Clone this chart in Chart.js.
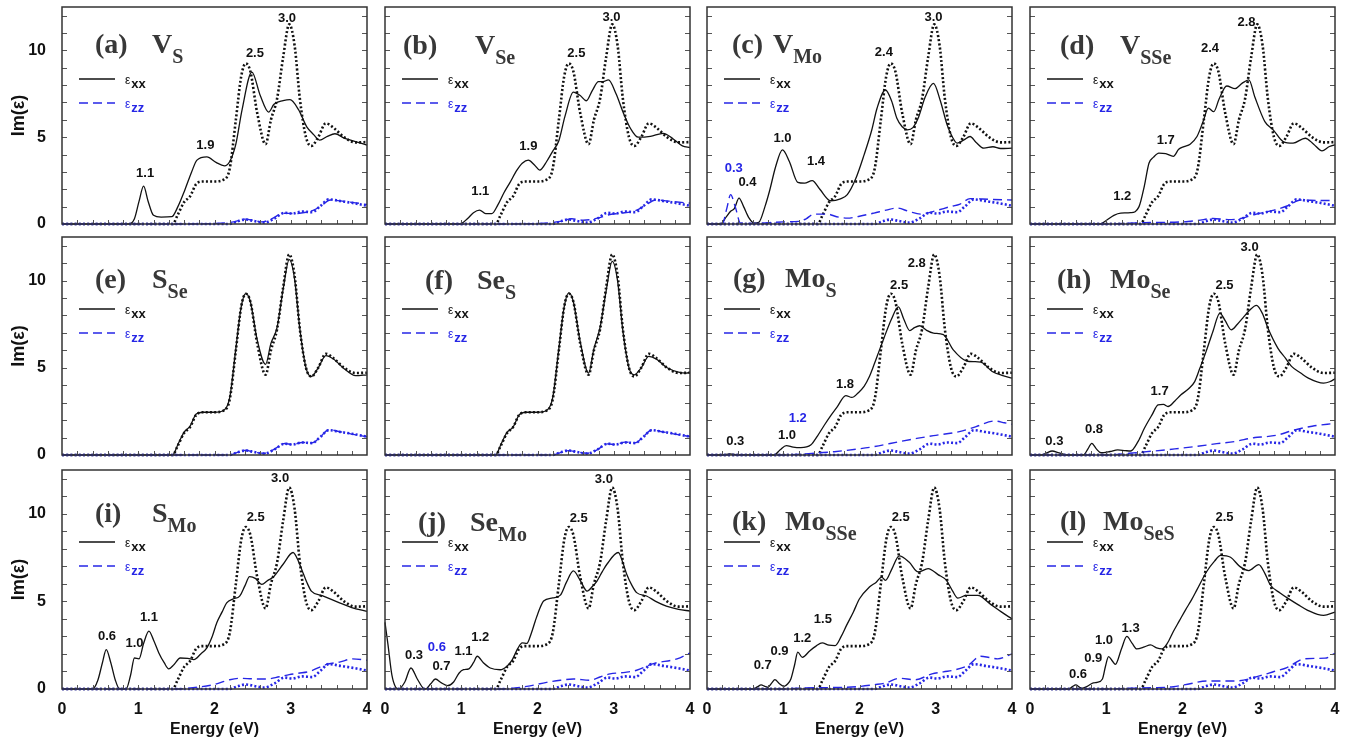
<!DOCTYPE html>
<html>
<head>
<meta charset="utf-8">
<title>Im(ε) spectra of defective MoSSe</title>
<script src="https://cdn.jsdelivr.net/npm/chart.js@4.4.1/dist/chart.umd.min.js"></script>
<style>
  body { margin: 0; background: #fff; width: 1359px; height: 745px; position: relative; overflow: hidden; }
  canvas { position: absolute; }
</style>
</head>
<body>
<script>
// Pristine MoSSe reference curves (dotted), the same in every panel
const pristineXX = [[0,0],[1.45,0],[1.52,0.55],[1.6,1.25],[1.68,1.6],[1.76,2.3],[1.85,2.45],[2.0,2.45],[2.12,2.55],[2.2,3.2],[2.28,6.0],[2.35,8.5],[2.41,9.25],[2.47,8.8],[2.56,6.4],[2.67,4.6],[2.74,6.0],[2.82,7.2],[2.9,9.6],[2.98,11.5],[3.05,10.3],[3.12,7.2],[3.2,5.0],[3.27,4.5],[3.36,5.0],[3.46,5.8],[3.56,5.55],[3.7,5.0],[3.85,4.7],[4.0,4.72]];
const pristineZZ = [[0,0],[2.2,0],[2.3,0.15],[2.41,0.26],[2.52,0.17],[2.65,0.08],[2.78,0.3],[2.92,0.65],[3.02,0.6],[3.15,0.72],[3.28,0.68],[3.38,1.0],[3.5,1.42],[3.65,1.32],[3.8,1.22],[4.0,1.05]];

// (a) V_S
const vsXX = [[0,0],[0.88,0],[0.95,0.3],[1.01,1.3],[1.07,2.18],[1.13,1.3],[1.2,0.5],[1.3,0.4],[1.44,0.42],[1.52,1.0],[1.61,1.95],[1.7,3.0],[1.77,3.68],[1.9,3.87],[2.02,3.55],[2.13,3.35],[2.2,3.6],[2.28,4.6],[2.36,6.55],[2.49,8.75],[2.6,7.4],[2.71,6.45],[2.78,6.9],[2.9,7.1],[2.99,7.16],[3.1,6.6],[3.21,5.6],[3.3,5.15],[3.38,4.83],[3.48,5.05],[3.58,5.2],[3.7,4.95],[3.85,4.75],[4.0,4.54]];
const vsZZ = [[0,0],[1.5,0],[2.0,0.03],[2.25,0.12],[2.4,0.28],[2.52,0.2],[2.62,0.12],[2.75,0.3],[2.9,0.62],[3.05,0.6],[3.2,0.68],[3.3,0.8],[3.4,1.05],[3.52,1.38],[3.7,1.3],[3.85,1.22],[4.0,1.12]];
// (b) V_Se
const vseXX = [[0,0],[0.98,0],[1.08,0.3],[1.16,0.65],[1.24,0.8],[1.32,0.6],[1.4,0.6],[1.48,1.1],[1.56,1.8],[1.64,2.4],[1.73,3.1],[1.8,3.5],[1.88,3.68],[1.96,3.4],[2.03,3.1],[2.12,3.6],[2.2,4.2],[2.28,4.8],[2.36,6.2],[2.47,7.6],[2.56,7.4],[2.64,7.1],[2.72,7.7],[2.8,8.2],[2.86,8.2],[2.93,8.3],[3.03,7.5],[3.13,6.35],[3.22,5.5],[3.32,5.0],[3.48,5.05],[3.65,5.22],[3.78,4.9],[3.9,4.5],[4.0,4.4]];
const vseZZ = [[0,0],[1.5,0],[2.1,0.05],[2.3,0.15],[2.45,0.3],[2.6,0.22],[2.8,0.35],[2.95,0.55],[3.1,0.62],[3.3,0.8],[3.42,1.1],[3.55,1.38],[3.75,1.3],[4.0,1.2]];
// (c) V_Mo
const vmoXX = [[0,0],[0.18,0],[0.25,0.4],[0.31,0.73],[0.36,0.9],[0.42,1.49],[0.48,1.0],[0.55,0.35],[0.62,0.05],[0.68,0.1],[0.76,1.0],[0.82,1.9],[0.9,3.3],[0.99,4.27],[1.08,3.6],[1.19,2.4],[1.28,2.35],[1.38,2.5],[1.48,2.0],[1.62,1.34],[1.75,1.45],[1.84,1.69],[1.95,2.6],[2.06,3.98],[2.16,5.4],[2.23,6.67],[2.34,7.72],[2.42,7.1],[2.49,6.09],[2.56,5.6],[2.63,5.42],[2.7,5.55],[2.77,6.1],[2.86,7.3],[2.97,8.1],[3.06,7.1],[3.15,5.7],[3.22,5.0],[3.28,4.66],[3.37,4.85],[3.45,5.04],[3.53,4.7],[3.63,4.37],[3.75,4.45],[3.85,4.35],[4.0,4.37]];
const vmoZZ = [[0,0],[0.2,0],[0.26,0.9],[0.31,1.69],[0.37,1.0],[0.44,0.05],[0.6,0.03],[1.0,0.12],[1.2,0.15],[1.3,0.3],[1.4,0.57],[1.58,0.57],[1.7,0.42],[1.84,0.34],[2.0,0.45],[2.19,0.63],[2.35,0.8],[2.49,0.92],[2.65,0.72],[2.8,0.57],[2.97,0.73],[3.19,1.0],[3.32,1.15],[3.45,1.46],[3.7,1.42],[4.0,1.38]];
// (d) V_SSe
const vsseXX = [[0,0],[0.92,0],[1.0,0.2],[1.1,0.5],[1.19,0.63],[1.32,0.65],[1.43,1.0],[1.5,2.2],[1.56,3.5],[1.62,3.85],[1.69,4.08],[1.78,4.05],[1.88,3.9],[1.95,4.3],[2.02,4.46],[2.1,4.6],[2.19,5.04],[2.27,5.9],[2.34,6.67],[2.41,6.47],[2.48,7.2],[2.58,7.95],[2.69,7.8],[2.78,8.1],[2.87,8.3],[2.95,7.3],[3.08,5.9],[3.19,5.42],[3.32,4.75],[3.45,4.66],[3.61,4.94],[3.72,4.6],[3.83,4.21],[3.92,4.45],[4.0,4.56]];
const vsseZZ = [[0,0],[1.0,0],[1.5,0.08],[2.0,0.12],[2.2,0.2],[2.4,0.32],[2.6,0.25],[2.75,0.3],[2.95,0.55],[3.2,0.8],[3.38,1.05],[3.55,1.38],[3.8,1.35],[4.0,1.35]];
// (e) S_Se
const sseXX = [[0,0],[1.45,0],[1.52,0.6],[1.6,1.3],[1.68,1.65],[1.76,2.35],[1.85,2.45],[2.0,2.45],[2.12,2.55],[2.2,3.3],[2.28,6.1],[2.35,8.5],[2.41,9.25],[2.47,8.8],[2.56,6.6],[2.67,5.2],[2.74,6.4],[2.82,7.3],[2.9,9.5],[2.98,11.2],[3.05,10.1],[3.12,7.2],[3.2,5.0],[3.27,4.5],[3.36,5.0],[3.46,5.7],[3.56,5.5],[3.7,4.95],[3.85,4.55],[4.0,4.6]];
const sseZZ = [[0,0],[2.2,0],[2.3,0.15],[2.41,0.27],[2.52,0.16],[2.65,0.1],[2.78,0.32],[2.92,0.66],[3.02,0.6],[3.15,0.72],[3.28,0.7],[3.38,1.0],[3.5,1.45],[3.65,1.33],[3.8,1.2],[4.0,1.05]];
// (f) Se_S
const sesXX = [[0,0],[1.45,0],[1.52,0.6],[1.6,1.3],[1.68,1.6],[1.76,2.3],[1.85,2.45],[2.0,2.45],[2.12,2.55],[2.2,3.3],[2.28,6.1],[2.35,8.5],[2.41,9.3],[2.47,8.8],[2.56,6.5],[2.67,4.7],[2.74,6.1],[2.82,7.3],[2.9,9.4],[2.98,11.1],[3.05,10.0],[3.12,7.1],[3.2,5.0],[3.27,4.6],[3.36,5.0],[3.46,5.65],[3.56,5.5],[3.7,5.0],[3.85,4.75],[3.95,4.7],[4.0,4.75]];
const sesZZ = [[0,0],[2.2,0],[2.3,0.14],[2.41,0.25],[2.52,0.17],[2.65,0.1],[2.78,0.3],[2.92,0.64],[3.02,0.6],[3.15,0.74],[3.28,0.7],[3.38,1.02],[3.5,1.43],[3.65,1.32],[3.8,1.2],[4.0,1.06]];
// (g) Mo_S
const mosXX = [[0,0],[0.2,0],[0.3,0.06],[0.4,0.02],[0.88,0],[0.96,0.3],[1.04,0.54],[1.13,0.45],[1.23,0.42],[1.36,0.57],[1.45,1.1],[1.54,1.72],[1.63,2.3],[1.71,2.78],[1.82,3.41],[1.9,3.3],[1.98,3.55],[2.06,3.93],[2.13,4.5],[2.19,5.17],[2.26,6.0],[2.32,6.7],[2.42,7.8],[2.51,8.49],[2.58,7.8],[2.66,7.13],[2.72,7.3],[2.79,7.41],[2.88,7.15],[2.97,6.99],[3.1,6.9],[3.23,6.03],[3.4,5.4],[3.5,5.35],[3.59,5.33],[3.74,4.79],[3.88,4.55],[4.0,4.41]];
const mosZZ = [[0,0],[1.0,0],[1.23,0.05],[1.45,0.12],[1.67,0.19],[1.95,0.33],[2.19,0.48],[2.53,0.77],[2.75,0.95],[2.97,1.11],[3.31,1.34],[3.53,1.63],[3.77,1.95],[3.9,1.85],[4.0,1.76]];
// (h) Mo_Se
const moseXX = [[0,0],[0.15,0],[0.22,0.12],[0.29,0.23],[0.38,0.12],[0.49,0],[0.7,0],[0.76,0.35],[0.81,0.67],[0.87,0.35],[0.93,0.13],[1.05,0.2],[1.15,0.29],[1.25,0.25],[1.32,0.23],[1.42,0.8],[1.5,1.53],[1.6,2.3],[1.68,2.87],[1.75,2.9],[1.81,2.78],[1.9,3.1],[1.98,3.45],[2.08,3.8],[2.16,4.21],[2.23,5.0],[2.31,5.94],[2.4,7.1],[2.49,8.14],[2.56,7.7],[2.64,7.18],[2.72,7.5],[2.79,7.85],[2.88,8.3],[2.97,8.58],[3.05,8.1],[3.12,7.28],[3.25,6.13],[3.35,5.55],[3.43,5.08],[3.55,4.7],[3.65,4.41],[3.85,4.12],[3.93,4.2],[4.0,4.37]];
const moseZZ = [[0,0],[1.0,0],[1.3,0.1],[1.63,0.23],[1.9,0.35],[2.16,0.48],[2.45,0.65],[2.68,0.77],[2.95,1.0],[3.1,1.05],[3.25,1.15],[3.47,1.44],[3.7,1.65],[4.0,1.82]];
// (i) S_Mo
const smoXX = [[0,0],[0.4,0],[0.47,0.5],[0.53,1.5],[0.58,2.25],[0.64,1.5],[0.7,0.5],[0.75,0.03],[0.84,0],[0.9,0.8],[0.95,1.77],[1.01,1.72],[1.07,2.6],[1.14,3.3],[1.2,2.8],[1.27,2.06],[1.34,1.5],[1.4,1.15],[1.47,1.4],[1.55,1.77],[1.65,1.75],[1.73,1.68],[1.82,2.0],[1.9,2.35],[1.97,3.0],[2.03,3.78],[2.1,4.4],[2.16,4.92],[2.25,5.15],[2.33,5.3],[2.4,5.9],[2.46,6.41],[2.54,6.3],[2.62,5.97],[2.7,6.2],[2.77,6.39],[2.9,7.12],[3.03,7.79],[3.1,7.3],[3.16,6.64],[3.22,6.0],[3.27,5.59],[3.42,5.31],[3.64,4.92],[3.8,4.65],[4.0,4.43]];
const smoZZ = [[0,0],[1.5,0],[1.68,0.06],[1.99,0.25],[2.2,0.53],[2.33,0.61],[2.5,0.58],[2.68,0.57],[2.85,0.7],[2.98,0.82],[3.1,0.9],[3.25,1.01],[3.46,1.39],[3.65,1.55],[3.81,1.72],[4.0,1.64]];
// (j) Se_Mo
const semoXX = [[0,3.8],[0.04,2.5],[0.09,0.8],[0.14,0.1],[0.18,0],[0.26,0.4],[0.34,1.2],[0.42,0.6],[0.5,0.05],[0.53,0],[0.6,0.3],[0.66,0.57],[0.74,0.35],[0.82,0.19],[0.9,0.4],[0.97,0.9],[1.03,1.1],[1.1,1.15],[1.16,1.5],[1.21,1.87],[1.29,1.5],[1.38,1.2],[1.51,1.1],[1.6,1.3],[1.67,1.68],[1.74,2.3],[1.8,2.63],[1.86,2.6],[1.92,3.2],[1.97,3.87],[2.03,4.6],[2.08,5.02],[2.2,5.2],[2.3,5.36],[2.38,6.1],[2.47,6.74],[2.56,6.2],[2.65,5.59],[2.72,5.85],[2.78,6.16],[2.85,6.7],[2.91,7.12],[3.06,7.79],[3.12,7.2],[3.17,6.55],[3.24,5.9],[3.3,5.5],[3.43,5.31],[3.55,5.0],[3.69,4.73],[3.85,4.55],[4.0,4.45]];
const semoZZ = [[0,0],[1.5,0],[1.86,0.15],[2.12,0.38],[2.3,0.5],[2.47,0.57],[2.69,0.5],[2.83,0.7],[2.95,0.86],[3.15,0.95],[3.3,1.07],[3.52,1.45],[3.83,1.72],[4.0,2.06]];
// (k) Mo_SSe
const mosseXX = [[0,0],[0.6,0],[0.66,0.12],[0.71,0.23],[0.76,0.15],[0.8,0.1],[0.85,0.35],[0.89,0.53],[0.95,0.3],[1.01,0.15],[1.06,0.3],[1.1,0.57],[1.15,1.4],[1.19,2.1],[1.25,1.81],[1.35,2.19],[1.43,2.45],[1.51,2.63],[1.6,2.5],[1.68,2.48],[1.76,3.0],[1.83,3.63],[1.92,4.4],[2.0,5.15],[2.13,5.82],[2.22,6.1],[2.29,6.39],[2.34,6.2],[2.43,6.9],[2.52,7.6],[2.65,7.25],[2.77,6.68],[2.9,6.87],[3.03,6.53],[3.14,6.2],[3.22,5.6],[3.29,5.19],[3.4,5.34],[3.55,5.34],[3.72,4.83],[3.86,4.4],[4.0,4.0]];
const mosseZZ = [[0,0],[1.0,0],[1.2,0.05],[1.6,0.08],[1.96,0.13],[2.2,0.25],[2.34,0.34],[2.52,0.61],[2.73,0.53],[2.95,0.86],[3.1,0.98],[3.25,1.09],[3.42,1.34],[3.59,1.87],[3.7,1.8],[3.81,1.72],[4.0,2.0]];
// (l) Mo_SeS
const mosesXX = [[0,0],[0.51,0],[0.56,0.15],[0.6,0.23],[0.65,0.1],[0.68,0.04],[0.75,0.15],[0.83,0.35],[0.88,0.38],[0.95,0.57],[0.99,1.3],[1.03,1.85],[1.08,1.6],[1.12,1.41],[1.2,2.3],[1.27,3.0],[1.34,2.6],[1.4,2.29],[1.5,2.4],[1.58,2.52],[1.66,2.35],[1.73,2.29],[1.8,2.6],[1.88,3.28],[1.96,3.9],[2.04,4.52],[2.12,5.1],[2.19,5.67],[2.32,6.72],[2.42,7.3],[2.5,7.63],[2.63,7.52],[2.75,7.0],[2.87,6.76],[3.0,7.1],[3.08,6.6],[3.15,5.95],[3.28,5.48],[3.41,5.1],[3.52,4.8],[3.63,4.52],[3.85,4.2],[4.0,4.39]];
const mosesZZ = [[0,0],[1.0,0],[1.3,0.04],[1.6,0.07],[1.88,0.13],[2.1,0.3],[2.32,0.46],[2.5,0.46],[2.71,0.46],[3.02,0.76],[3.2,1.0],[3.37,1.22],[3.59,1.72],[3.75,1.75],[3.87,1.76],[4.0,2.04]];

// peak labels: [text, energy, value, blue?]
const vsNotes = [['1.1',1.09,2.91],['1.9',1.88,4.5],['2.5',2.53,9.8],['3.0',2.95,11.82]];
const vseNotes = [['1.1',1.25,1.85],['1.9',1.88,4.45],['2.5',2.51,9.8],['3.0',2.97,11.9]];
const vmoNotes = [['0.3',0.35,3.2,1],['0.4',0.53,2.4],['1.0',0.99,4.95],['1.4',1.43,3.6],['2.4',2.32,9.9],['3.0',2.97,11.9]];
const vsseNotes = [['1.2',1.21,1.6],['1.7',1.78,4.8],['2.4',2.36,10.1],['2.8',2.84,11.6]];
const mosNotes = [['0.3',0.37,0.8],['1.0',1.05,1.15],['1.2',1.19,2.07,1],['1.8',1.81,4.06],['2.5',2.52,9.73],['2.8',2.75,10.96]];
const moseNotes = [['0.3',0.32,0.77],['0.8',0.84,1.44],['1.7',1.7,3.64],['2.5',2.55,9.73],['3.0',2.88,11.9]];
const smoNotes = [['0.6',0.59,2.98],['1.0',0.95,2.63],['1.1',1.14,4.06],['2.5',2.54,9.79],['3.0',2.86,12.0]];
const semoNotes = [['0.3',0.38,1.91],['0.6',0.68,2.35,1],['0.7',0.74,1.3],['1.1',1.03,2.12],['1.2',1.25,2.92],['2.5',2.54,9.73],['3.0',2.87,11.98]];
const mosseNotes = [['0.7',0.73,1.34],['0.9',0.95,2.14],['1.2',1.25,2.9],['1.5',1.52,3.97],['2.5',2.54,9.77]];
const mosesNotes = [['0.6',0.63,0.84],['0.9',0.83,1.76],['1.0',0.97,2.77],['1.3',1.32,3.47],['2.5',2.55,9.81]];

const panelLetters = ['a','b','c','d','e','f','g','h','i','j','k','l'];
const defectMain = ['V','V','V','V','S','Se','Mo','Mo','S','Se','Mo','Mo'];
const defectSub = ['S','Se','Mo','SSe','Se','S','S','Se','Mo','Mo','SSe','SeS'];
const xxSeries = [vsXX, vseXX, vmoXX, vsseXX, sseXX, sesXX, mosXX, moseXX, smoXX, semoXX, mosseXX, mosesXX];
const zzSeries = [vsZZ, vseZZ, vmoZZ, vsseZZ, sseZZ, sesZZ, mosZZ, moseZZ, smoZZ, semoZZ, mosseZZ, mosesZZ];
const peakNotes = [vsNotes, vseNotes, vmoNotes, vsseNotes, [], [], mosNotes, moseNotes, smoNotes, semoNotes, mosseNotes, mosesNotes];

const xTicks = [0, 1, 2, 3, 4];
const yTicks = [0, 5, 10];
const xMinorStep = 0.2;
const yMinorStep = 1;

// layout (pixels)
const colLeft = [62, 385, 707, 1030];
const rowTop = [7, 237, 470];
const rowBottom = [224, 455, 689];
const plotW = 305;
const ML = 62, PT = 22, PR = 10;
// title: [label x, species x, baseline] offsets from plot corner
const titlePos = [[33,90,46],[18,90,47],[25,66,46],[30,90,47],[33,90,51],[40,92,52],[26,78,50],[27,80,51],[33,90,52],[33,85,61],[25,78,60],[30,73,60]];

const BLACK = '#111111';
const BLUE = '#2626e6';

Chart.defaults.font.family = '"Liberation Sans", Arial, sans-serif';
Chart.defaults.color = BLACK;
Chart.defaults.animation = false;

const toPts = arr => arr.map(([x, y]) => ({x, y}));

const frameTicks = {
    id: 'frameTicks',
    afterDatasetsDraw(chart) {
        const {ctx, chartArea: a, scales: {x, y}} = chart;
        ctx.save();
        ctx.strokeStyle = '#555';
        ctx.lineWidth = 1;
        ctx.beginPath();
        for (let k = 1; k * xMinorStep < 4 - 1e-6; k++) {
            const px = Math.round(x.getPixelForValue(k * xMinorStep)) + 0.5;
            ctx.moveTo(px, a.bottom);
            ctx.lineTo(px, a.bottom - 4);
        }
        for (let k = 1; k * yMinorStep < 12.5; k++) {
            const py = Math.round(y.getPixelForValue(k * yMinorStep)) + 0.5;
            ctx.moveTo(a.left, py);
            ctx.lineTo(a.left + 5, py);
            ctx.moveTo(a.right, py);
            ctx.lineTo(a.right - 5, py);
        }
        ctx.stroke();
        ctx.strokeStyle = '#333';
        ctx.lineWidth = 1.5;
        ctx.strokeRect(a.left, a.top, a.width, a.height);
        ctx.restore();
    }
};

const panelText = {
    id: 'panelText',
    afterDraw(chart) {
        const {ctx, chartArea: a, scales: {x, y}} = chart;
        const i = chart.options.panelIndex;
        const [lx, sx, by] = titlePos[i];
        ctx.save();
        // panel title
        ctx.fillStyle = '#383838';
        ctx.textBaseline = 'alphabetic';
        ctx.textAlign = 'left';
        ctx.font = 'bold 28px "Liberation Serif", "Times New Roman", serif';
        ctx.fillText('(' + panelLetters[i] + ')', a.left + lx, a.top + by);
        ctx.fillText(defectMain[i], a.left + sx, a.top + by);
        const mw = ctx.measureText(defectMain[i]).width;
        ctx.font = 'bold 20px "Liberation Serif", "Times New Roman", serif';
        ctx.fillText(defectSub[i], a.left + sx + mw, a.top + by + 10);

        // legend
        const legendRows = [[72, BLACK, [], 'xx'], [96, BLUE, [9, 5], 'zz']];
        legendRows.forEach(([dy, color, dash, sub]) => {
            const ly = a.top + dy;
            ctx.strokeStyle = color;
            ctx.lineWidth = 1.4;
            ctx.setLineDash(dash);
            ctx.beginPath();
            ctx.moveTo(a.left + 17, ly);
            ctx.lineTo(a.left + 53, ly);
            ctx.stroke();
            ctx.setLineDash([]);
            ctx.fillStyle = color;
            ctx.font = '12px "Liberation Sans", Arial, sans-serif';
            ctx.fillText('ε', a.left + 63, ly + 5);
            const ew = ctx.measureText('ε').width;
            ctx.font = 'bold 13px "Liberation Sans", Arial, sans-serif';
            ctx.fillText(sub, a.left + 63 + ew + 1, ly + 9);
        });

        // peak labels
        ctx.textAlign = 'center';
        ctx.textBaseline = 'middle';
        ctx.font = 'bold 13px "Liberation Sans", Arial, sans-serif';
        peakNotes[i].forEach(([t, e, v, blue]) => {
            ctx.fillStyle = blue ? BLUE : BLACK;
            ctx.fillText(t, x.getPixelForValue(e), y.getPixelForValue(v));
        });
        ctx.restore();
    }
};

function lineSet(data, color, width, dash) {
    return {
        data: toPts(data),
        borderColor: color,
        borderWidth: width,
        borderDash: dash,
        pointRadius: 0,
        fill: false,
        cubicInterpolationMode: 'monotone',
        clip: 4
    };
}

function makePanel(i) {
    const col = i % 4, row = Math.floor(i / 4);
    const bottomRow = row === 2, firstCol = col === 0;
    const mb = bottomRow ? 50 : 22;
    const w = ML + plotW + PR;
    const h = PT + (rowBottom[row] - rowTop[row]) + mb;

    const cv = document.createElement('canvas');
    cv.width = w;
    cv.height = h;
    cv.style.left = (colLeft[col] - ML) + 'px';
    cv.style.top = (rowTop[row] - PT) + 'px';
    cv.style.width = w + 'px';
    cv.style.height = h + 'px';
    document.body.appendChild(cv);

    new Chart(cv, {
        type: 'line',
        data: {
            datasets: [
                lineSet(pristineZZ, BLUE, 2.6, [2, 2.2]),
                lineSet(zzSeries[i], BLUE, 1.4, [9, 5]),
                lineSet(pristineXX, BLACK, 2.6, [2, 2.2]),
                lineSet(xxSeries[i], BLACK, 1.3, [])
            ]
        },
        options: {
            panelIndex: i,
            responsive: false,
            events: [],
            layout: { padding: { top: PT, right: PR, left: 0, bottom: 0 } },
            plugins: { legend: { display: false }, tooltip: { enabled: false } },
            scales: {
                x: {
                    type: 'linear', min: 0, max: 4,
                    afterBuildTicks: s => { s.ticks = xTicks.map(v => ({ value: v })); },
                    afterFit: s => { s.height = mb; },
                    grid: { display: false },
                    border: { display: false },
                    ticks: { display: bottomRow, font: { size: 16, weight: 'bold' }, padding: 3, maxRotation: 0, color: BLACK },
                    title: { display: bottomRow, text: 'Energy (eV)', font: { size: 16, weight: 'bold' }, padding: 0, color: BLACK }
                },
                y: {
                    type: 'linear', min: 0, max: 12.5,
                    afterBuildTicks: s => { s.ticks = yTicks.map(v => ({ value: v })); },
                    afterFit: s => { s.width = ML; },
                    grid: { display: false },
                    border: { display: false },
                    ticks: { display: firstCol, font: { size: 16, weight: 'bold' }, padding: 8, color: BLACK },
                    title: { display: firstCol, text: 'Im(ε)', font: { size: 18, weight: 'bold' }, padding: { top: 8, bottom: 0 }, color: BLACK }
                }
            }
        },
        plugins: [frameTicks, panelText]
    });
}

panelLetters.forEach((_, i) => makePanel(i));
</script>
</body>
</html>
